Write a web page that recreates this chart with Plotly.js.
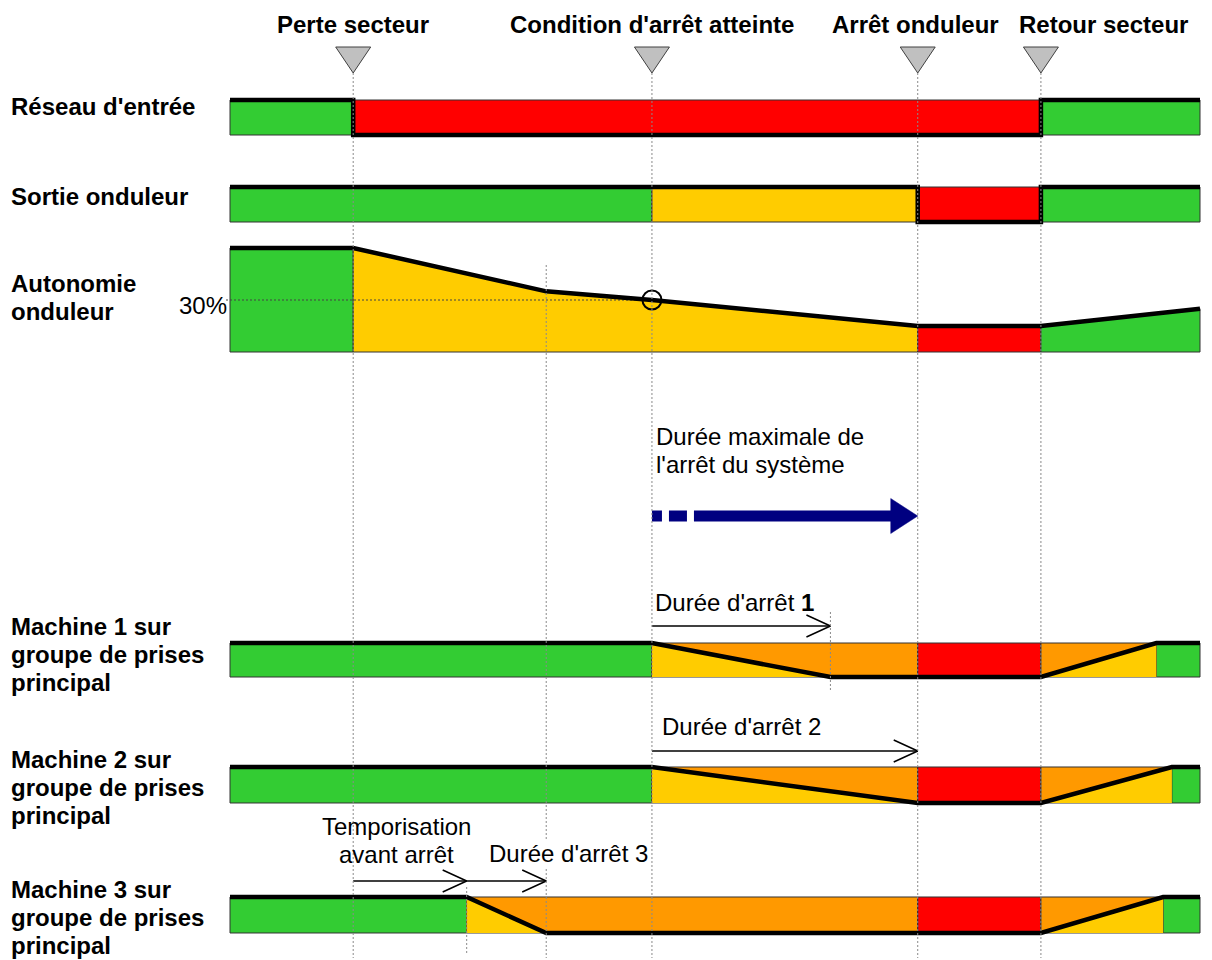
<!DOCTYPE html>
<html><head><meta charset="utf-8">
<script src="https://cdn.plot.ly/plotly-3.0.1.min.js"></script>
<style>html,body{margin:0;padding:0;background:#fff}</style>
</head><body><div id="chart" style="width:1212px;height:960px"></div>
<script>
// ================= DATA =================
const eventLabels = ['Perte secteur', "Condition d'arrêt atteinte", 'Arrêt onduleur', 'Retour secteur'];
const eventTimes  = [12.7, 43.5, 70.9, 83.6];
const tStart = 0, tEnd = 100;

// Réseau d'entrée
const reseauTimes  = [0, 12.7, 83.6, 100];
const reseauLevel  = [1, 0, 1, 1];
const reseauBreaks = [0, 12.7, 83.6, 100];
const reseauStates = ['ok', 'off', 'ok'];

// Sortie onduleur
const sortieTimes  = [0, 70.9, 83.6, 100];
const sortieLevel  = [1, 0, 1, 1];
const sortieBreaks = [0, 43.5, 70.9, 83.6, 100];
const sortieStates = ['ok', 'warn', 'off', 'ok'];

// Autonomie onduleur (%)
const autoTimes  = [0, 12.7, 32.6, 43.5, 70.9, 83.6, 100];
const autoPct    = [60, 60, 35, 30, 15, 15, 25];
const autoBreaks = [0, 12.7, 70.9, 83.6, 100];
const autoStates = ['ok', 'warn', 'off', 'ok'];
const autoThreshold = 30;
const autoThresholdLabel = '30%';

// Machines
const m1Times  = [0, 43.5, 61.9, 83.6, 95.5, 100];
const m1Level  = [1, 1, 0, 0, 1, 1];
const m1Breaks = [0, 43.5, 70.9, 83.6, 95.5, 100];
const m1States = ['ok', 'shut', 'off', 'shut', 'ok'];

const m2Times  = [0, 43.5, 70.9, 83.6, 97.1, 100];
const m2Level  = [1, 1, 0, 0, 1, 1];
const m2Breaks = [0, 43.5, 70.9, 83.6, 97.1, 100];
const m2States = ['ok', 'shut', 'off', 'shut', 'ok'];

const m3Times  = [0, 24.4, 32.6, 83.6, 96.2, 100];
const m3Level  = [1, 1, 0, 0, 1, 1];
const m3Breaks = [0, 24.4, 70.9, 83.6, 96.2, 100];
const m3States = ['ok', 'shut', 'off', 'shut', 'ok'];

// Row labels
const rowLabels = [
  ["Réseau d'entrée"],
  ['Sortie onduleur'],
  ['Autonomie', 'onduleur'],
  ['Machine 1 sur', 'groupe de prises', 'principal'],
  ['Machine 2 sur', 'groupe de prises', 'principal'],
  ['Machine 3 sur', 'groupe de prises', 'principal']
];

// Durations (arrows)
const maxStopLabel = ['Durée maximale de', "l'arrêt du système"];
const maxStopStart = eventTimes[1], maxStopEnd = eventTimes[2];
const spanLabels = [["Durée d'arrêt <b>1</b>"], ["Durée d'arrêt 2"], ['Temporisation', 'avant arrêt'], ["Durée d'arrêt 3"]];
const spanStart  = [eventTimes[1], eventTimes[1], eventTimes[0], m3Times[1]];
const spanEnd    = [m1Times[2], eventTimes[2], m3Times[1], m3Times[2]];

// ================= LAYOUT / STYLE =================
const W = 1212, H = 960, X0PX = 230, PXU = 9.7;
const dx = p => p / PXU;
const yp = px => 1 - px / H;
const FONT = 'Liberation Sans, Arial, Helvetica, sans-serif';
const FS = 24;
const COL = {ok: '#33CC33', off: '#FF0000', warn: '#FFCC00', shut: '#FF9900', under: '#FFCC00'};
const CELL_LINE = {color: '#333', width: 1};
const THICK = {color: '#000', width: 4.5};

const traces = [];
const layout = {
  width: W, height: H, margin: {l: 0, r: 0, t: 0, b: 0},
  paper_bgcolor: '#fff', plot_bgcolor: 'rgba(0,0,0,0)', showlegend: false,
  xaxis: {domain: [0, 1], range: [(0 - X0PX) / PXU, (W - X0PX) / PXU], visible: false, fixedrange: true},
  annotations: [], shapes: []
};

let axN = 0;
// value lo sits at Bpx, value hi at Tpx; range padded by padLo / padHi (in value units)
function rowAxis(Tpx, Bpx, lo, hi, padLo, padHi) {
  axN++;
  const ppu = (Bpx - Tpx) / (hi - lo);
  const name = axN === 1 ? 'yaxis' : 'yaxis' + axN;
  layout[name] = {domain: [yp(Bpx + padLo * ppu), yp(Tpx - padHi * ppu)], range: [lo - padLo, hi + padHi],
                  visible: false, anchor: 'x', fixedrange: true};
  return axN === 1 ? 'y' : 'y' + axN;
}
function levelAt(T, L, t) {
  for (let i = 0; i < T.length - 1; i++) {
    if (t >= T[i] - 1e-9 && t <= T[i + 1] + 1e-9) {
      const f = (t - T[i]) / (T[i + 1] - T[i]);
      return L[i] + f * (L[i + 1] - L[i]);
    }
  }
  return L[L.length - 1];
}
function poly(x, y, ya, fill, line) {
  traces.push({type: 'scatter', mode: 'lines', x, y, yaxis: ya, fill: 'toself', fillcolor: fill,
               line: line || {width: 0}, hoverinfo: 'skip'});
}
function fullCells(breaks, states, ya, stateColor) {
  for (let i = 0; i < states.length; i++) {
    const s = breaks[i], e = breaks[i + 1];
    poly([s, e, e, s, s], [0, 0, 1, 1, 0], ya, stateColor(states[i]), CELL_LINE);
  }
}
function underPoly(T, L, s, e) {
  const xs = [s, s], ys = [0, levelAt(T, L, s)];
  for (let i = 0; i < T.length; i++) if (T[i] > s + 1e-9 && T[i] < e - 1e-9) { xs.push(T[i]); ys.push(L[i]); }
  xs.push(e, e, s); ys.push(levelAt(T, L, e), 0, 0);
  return {xs, ys};
}
function thickLine(T, L, ya, shape) {
  traces.push({type: 'scatter', mode: 'lines', x: T, y: L, yaxis: ya,
               line: Object.assign({shape: shape || 'linear'}, THICK), hoverinfo: 'skip'});
}

// Row 1: Réseau
const yR = rowAxis(100, 135, 0, 1, 0.2, 0.2);
fullCells(reseauBreaks, reseauStates, yR, s => COL[s]);
thickLine(reseauTimes, reseauLevel, yR, 'hv');

// Row 2: Sortie
const yS = rowAxis(187, 222, 0, 1, 0.2, 0.2);
fullCells(sortieBreaks, sortieStates, yS, s => COL[s]);
thickLine(sortieTimes, sortieLevel, yS, 'hv');

// Row 3: Autonomie (0% at 352px, 30% at 300px)
const yA = rowAxis(300, 352, 0, autoThreshold, 5, 45);
for (let i = 0; i < autoStates.length; i++) {
  const p = underPoly(autoTimes, autoPct, autoBreaks[i], autoBreaks[i + 1]);
  poly(p.xs, p.ys, yA, COL[autoStates[i]], CELL_LINE);
}
traces.push({type: 'scatter', mode: 'lines', x: [tStart - dx(4), eventTimes[1]], y: [autoThreshold, autoThreshold],
             yaxis: yA, line: {color: '#444', width: 1, dash: '2px,2px'}, hoverinfo: 'skip'});
thickLine(autoTimes, autoPct, yA);
traces.push({type: 'scatter', mode: 'markers', x: [eventTimes[1]], y: [autoThreshold], yaxis: yA, cliponaxis: false,
             marker: {symbol: 'circle', size: 19, color: 'rgba(0,0,0,0)', line: {color: '#000', width: 2}}, hoverinfo: 'skip'});
layout.annotations.push({xref: 'x', yref: yA, x: tStart, y: autoThreshold, xanchor: 'right', yanchor: 'middle',
  xshift: -1, yshift: -6, text: autoThresholdLabel, showarrow: false, font: {family: FONT, size: FS, color: '#000'}});

// Machines
function machineRow(T, L, breaks, states, Tpx, Bpx) {
  const ya = rowAxis(Tpx, Bpx, 0, 1, 0.2, 0.2);
  fullCells(breaks, states, ya, s => COL[s]);
  for (let i = 0; i < states.length; i++) {
    if (states[i] !== 'shut') continue;
    const p = underPoly(T, L, breaks[i], breaks[i + 1]);
    poly(p.xs, p.ys, ya, COL.under, {width: 0});
  }
  thickLine(T, L, ya);
}
machineRow(m1Times, m1Level, m1Breaks, m1States, 643, 677);
machineRow(m2Times, m2Level, m2Breaks, m2States, 767, 803);
machineRow(m3Times, m3Level, m3Breaks, m3States, 897, 933);

// Overlay axis in page pixels (y down)
axN++;
layout['yaxis' + axN] = {domain: [0, 1], range: [H, 0], visible: false, anchor: 'x', fixedrange: true};
const yO = 'y' + axN;

// Event triangles
(function () {
  const xs = [], ys = [];
  eventTimes.forEach(t => { xs.push(t - dx(17.5), t + dx(17.5), t, t - dx(17.5), null); ys.push(47, 47, 73, 47, null); });
  traces.push({type: 'scatter', mode: 'lines', x: xs, y: ys, yaxis: yO, fill: 'toself', fillcolor: '#C0C0C0',
               line: {color: '#404040', width: 1}, hoverinfo: 'skip'});
})();

// Thin open arrows
function thinArrow(t0, t1, ypx) {
  traces.push({type: 'scatter', mode: 'lines', yaxis: yO, hoverinfo: 'skip',
    x: [t0, t1, null, t1 - dx(24), t1, t1 - dx(24)], y: [ypx, ypx, null, ypx - 11, ypx, ypx + 11],
    line: {color: '#000', width: 1.5}});
}
const spanArrowY = [626, 751, 881, 881];
spanStart.forEach((s, i) => thinArrow(s, spanEnd[i], spanArrowY[i]));

// Blue bold arrow (max stop duration)
(function () {
  const y = 516, t0 = maxStopStart, t1 = maxStopEnd;
  traces.push({type: 'scatter', mode: 'lines', yaxis: yO, hoverinfo: 'skip',
    x: [t0, t0 + dx(10), null, t0 + dx(17), t0 + dx(35), null, t0 + dx(42), t1 - dx(26)],
    y: [y, y, null, y, y, null, y, y], line: {color: '#000080', width: 11}});
  traces.push({type: 'scatter', mode: 'lines', yaxis: yO, hoverinfo: 'skip', fill: 'toself', fillcolor: '#000080',
    x: [t1 - dx(27), t1, t1 - dx(27), t1 - dx(27)], y: [y - 17.5, y, y + 17.5, y - 17.5],
    line: {color: '#000080', width: 0.5}});
})();

// Vertical dotted guides
function vguide(t, y0, y1) {
  layout.shapes.push({type: 'line', xref: 'x', yref: 'paper', x0: t, x1: t, y0: yp(y0), y1: yp(y1), layer: 'above',
                      line: {color: '#8a8a8a', width: 1, dash: '2px,2px'}});
}
eventTimes.forEach(t => vguide(t, 73, 958));
vguide(autoTimes[2], 265, 958);
vguide(m1Times[2], 612, 690);
vguide(m3Times[1], 887, 955);

// Text helpers
function txt(text, x, xref, baseline, xanchor, opts) {
  layout.annotations.push(Object.assign({xref, yref: 'paper', x, y: yp(baseline - 0.3465 * FS), xanchor, yanchor: 'middle',
    text, showarrow: false, borderpad: 0, font: {family: FONT, size: FS, color: '#000'}}, opts || {}));
}

// Event headers
const headerShift = [0, 0, -2, 63];
eventLabels.forEach((l, i) => txt('<b>' + l + '</b>', eventTimes[i], 'x', 33, 'center', {xshift: headerShift[i]}));

// Row labels
const rowBaselines = [[115], [205], [292, 320], [635, 663, 691], [768, 796, 824], [898, 926, 954]];
rowLabels.forEach((lines, r) => lines.forEach((l, k) => txt('<b>' + l + '</b>', 10 / W, 'paper', rowBaselines[r][k], 'left')));

// Max-stop text
maxStopLabel.forEach((l, k) => txt(l, maxStopStart, 'x', [445, 473][k], 'left', {xshift: 3}));

// Span labels
txt(spanLabels[0][0], spanStart[0], 'x', 611, 'left', {xshift: 2});
txt(spanLabels[1][0], spanStart[1], 'x', 735, 'left', {xshift: 9});
txt(spanLabels[2][0], 396 / W, 'paper', 835, 'center');
txt(spanLabels[2][1], 396 / W, 'paper', 863, 'center');
txt(spanLabels[3][0], spanStart[3], 'x', 862, 'left', {xshift: 21, bgcolor: '#fff'});

Plotly.newPlot('chart', traces, layout, {displayModeBar: false, staticPlot: true});
</script></body></html>
